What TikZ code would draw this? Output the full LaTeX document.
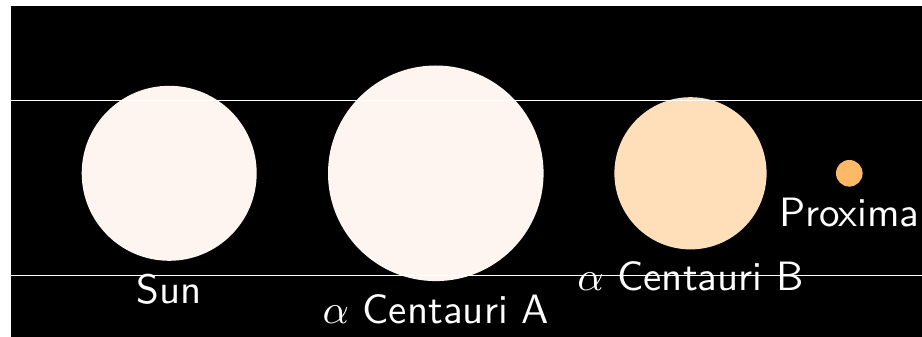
\documentclass[tikz,border=0pt]{standalone}
\usetikzlibrary{positioning}
\definecolor{sunwhite}{RGB}{255,245,240}
\definecolor{peach}{RGB}{255,223,186}
\definecolor{redorange}{RGB}{253,184,104}
\tikzset{
  star/.style={circle, inner sep=0pt, outer sep=0pt, minimum size=#1},
  starname/.style={text=white, inner sep=0pt, font=\sffamily, scale=4.1, transform shape},
}
\begin{document}
\begin{tikzpicture}[x=1pt, y=1pt]
                    % Frame
                    \useasboundingbox (0,0) rectangle (922,337);
                    \fill[black] (11,0) rectangle (922,331);
                    % Stars (radius 87.5pt per solar radius)
                    \node[star=175pt, fill=sunwhite] (sun) at (169.2,163.7) {};
                    \node[star=215.6pt, fill=sunwhite] (alphaA) at (435.8,163.7) {};
                    \node[star=152.2pt, fill=peach] (alphaB) at (690.5,163.7) {};
                    \node[star=26.6pt, fill=redorange] (proxima) at (849.3,163.7) {};
                    % Names
                    \node[starname, below=12.5pt of sun] (sunname) {Sun};
                    \node[starname, below=12.5pt of alphaA] (alphaAname) {$\alpha$ Centauri A};
                    \node[starname, below=11pt of alphaB] (alphaBname) {$\alpha$ Centauri B};
                    \node[starname, below=11pt of proxima] (proximaname) {Proxima};
                    % Guide lines
                    \draw[white, line width=0.8pt] (11,237) -- (922,237);
                    \draw[white, line width=0.8pt] (11,61.3) -- (922,61.3);
                \end{tikzpicture}
\end{document}
